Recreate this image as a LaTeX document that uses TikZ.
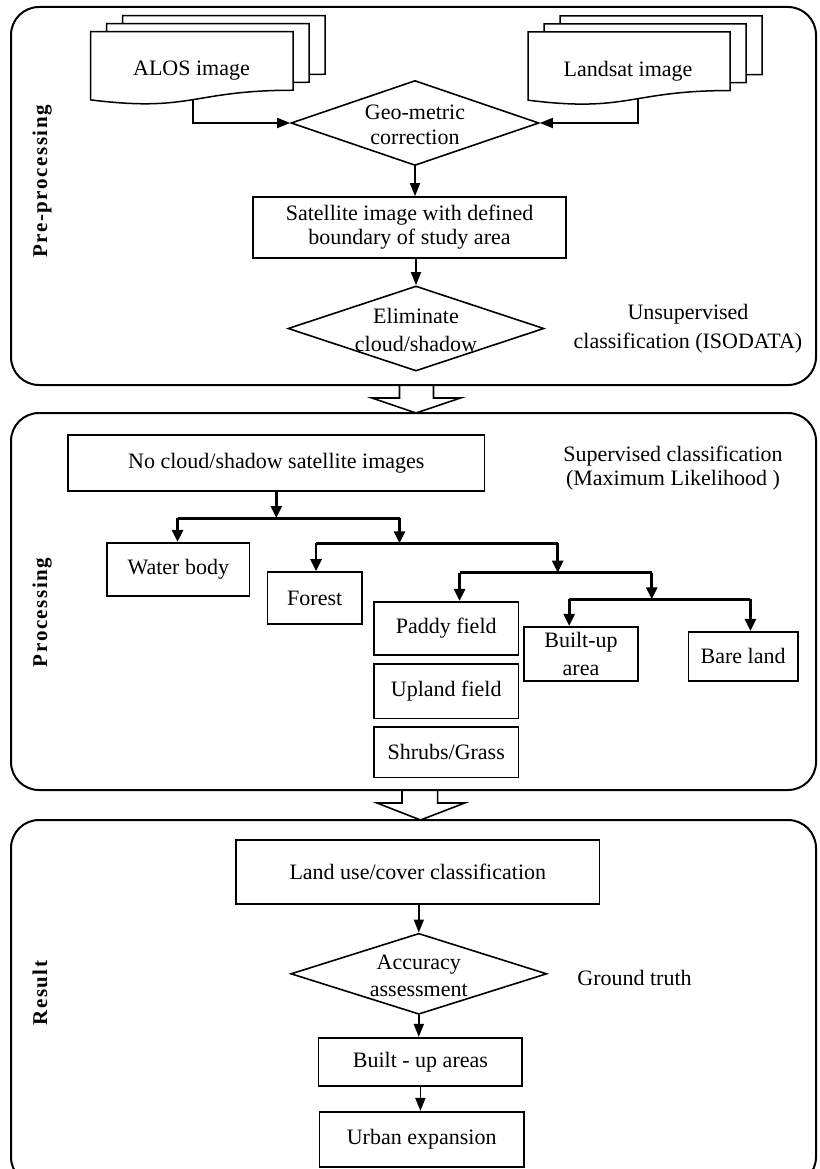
\documentclass[tikz,border=0pt]{standalone}
\usepackage{fontspec}
\setmainfont{Liberation Serif}
\usetikzlibrary{arrows.meta,shapes.geometric}

% one sheet of a stacked-document symbol: left, top, width, height
\newcommand\docsheet[4]{%
  \draw[sheet] (#1,#2) -- ({#1+#3},#2) -- ({#1+#3},{#2+0.802*#4})
    .. controls ({#1+0.5*#3},{#2+0.802*#4}) and ({#1+0.5*#3},{#2+1.108*#4})
    .. (#1,{#2+0.934*#4}) -- cycle;}

% letter-spaced word: kern, word
\makeatletter
\newcommand\spreadword[2]{\@tfor\sw@ch:=#2\do{\sw@ch\kern#1}\unkern}
\makeatother

\begin{document}
\begin{tikzpicture}[x=1pt,y=-1pt,
  every node/.style={font=\fontsize{22}{25}\selectfont},
  panel/.style={draw, line width=2pt, rounded corners=28pt, minimum width=805pt, inner sep=0pt},
  box/.style={draw, line width=1.6pt, inner sep=0pt, align=center},
  decision/.style={draw, diamond, line width=1.6pt, inner sep=0pt},
  sheet/.style={draw, line width=1.5pt, fill=white, line join=miter},
  caption/.style={align=center, inner sep=0pt},
  sect/.style={rotate=90, anchor=base, inner sep=0pt, font=\bfseries\fontsize{21}{23}\selectfont},
  flow/.style={line width=1.8pt, -{Triangle[length=13pt,width=10pt]}},
  bar/.style={line width=3pt},
  branch/.style={line width=2.6pt, -{Triangle[length=12pt,width=11pt]}},
  hollow/.style={draw, line width=1.6pt, fill=white, line join=miter},
]
\useasboundingbox (0,0) rectangle (819,1169);

% ---------- block arrows between the stages ----------
\draw[hollow] (399.5,384) -- (399.5,398) -- (372,398) -- (416,413)
  -- (460.5,398) -- (433.5,398) -- (433.5,384);
\draw[hollow] (402,789) -- (402,803) -- (377,803) -- (420.5,820)
  -- (464.7,803) -- (437.6,803) -- (437.6,789);

% ---------- stage frames ----------
\node[panel, minimum height=378pt] (p1) at (413.5,196) {};
\node[panel, minimum height=377pt] (p2) at (413.5,601.5) {};
\node[panel, minimum height=365pt] (p3) at (413.5,1002.5) {};

\node[sect] (lpre) at (47,181.5) {\spreadword{1.5pt}{Pre-processing}};
\node[sect] (lproc) at (47,612.5) {\spreadword{1.5pt}{Processing}};
\node[sect] (lres) at (47,993) {\spreadword{1.5pt}{Result}};

% ---------- pre-processing ----------
\docsheet{122.7}{15.7}{202.3}{73}
\docsheet{106.7}{23.7}{202.3}{73}
\docsheet{90.7}{31.7}{202.3}{73}
\node (alos) at (191.5,71) {ALOS image};
\coordinate (alosout) at (193,99.8);

\docsheet{560}{16}{202}{73}
\docsheet{544}{24}{202}{73}
\docsheet{528}{32}{202}{73}
\node (landsat) at (628,71) {Landsat image};
\coordinate (landout) at (638,99.5);

\node[decision, minimum width=248pt, minimum height=85pt] (geo) at (415,123) {};
\node[caption] (geotext) at (415,125) {Geo-metric\\correction};

\node[box, minimum width=313pt, minimum height=61pt,
  font=\fontsize{22}{24}\selectfont] (sat) at (409.5,227.5)
  {Satellite image with defined\\boundary of study area};

\node[decision, minimum width=256pt, minimum height=85pt] (elim) at (416,328.5) {};
\node[caption, font=\fontsize{22}{28}\selectfont] (elimtext) at (416,330)
  {Eliminate\\cloud/shadow};

\node[caption, font=\fontsize{22}{29}\selectfont] (unsup) at (688,329)
  {Unsupervised\\classification (ISODATA)};

\draw[flow] (alosout) |- (geo.west);
\draw[flow] (landout) |- (geo.east);
\draw[flow] (geo.south) -- (geo.south |- sat.north);
\draw[flow] (elim.north |- sat.south) -- (elim.north);

% ---------- processing ----------
\node[box, minimum width=416.6pt, minimum height=55.7pt] (nocloud) at (276.3,462.9)
  {No cloud/shadow satellite images};
\node[caption, font=\fontsize{22}{24.3}\selectfont] (sup) at (673,468)
  {Supervised classification\\(Maximum Likelihood )};

\node[box, minimum width=142.6pt, minimum height=53.3pt] (water) at (178.3,569.4) {Water body};
\node[box, minimum width=94.5pt, minimum height=52pt] (forest) at (314.7,598) {Forest};
\node[box, minimum width=144.6pt, minimum height=53.3pt] (paddy) at (446.2,628.4) {Paddy field};
\node[box, minimum width=144.6pt, minimum height=54.3pt] (upland) at (446.2,691.2) {Upland field};
\node[box, minimum width=144.6pt, minimum height=50.6pt] (shrubs) at (446.2,752) {Shrubs/Grass};
\node[box, minimum width=114.3pt, minimum height=54pt,
  font=\fontsize{22}{27.6}\selectfont] (builtup) at (581,653.7) {Built-up\\area};
\node[box, minimum width=109.6pt, minimum height=49pt] (bare) at (743.1,656.2) {Bare land};

% branching tree
\coordinate (b1l) at (177.5,518);  \coordinate (b1r) at (399.5,518);
\coordinate (b2l) at (316,543.3);  \coordinate (b2r) at (557.7,543.3);
\coordinate (b3l) at (459.5,572.7); \coordinate (b3r) at (651.7,572.7);
\coordinate (b4l) at (569.2,599.3); \coordinate (b4r) at (750.4,599.3);

\draw[bar] (b1l) -- (b1r);
\draw[bar] (b2l) -- (b2r);
\draw[bar] (b3l) -- (b3r);
\draw[bar] (b4l) -- (b4r);

\draw[branch] (nocloud.south) -- (nocloud.south |- b1l);
\draw[branch] (b1l) -- (b1l |- water.north);
\draw[branch] (b1r) -- (b1r |- b2l);
\draw[branch] (b2l) -- (b2l |- forest.north);
\draw[branch] (b2r) -- (b2r |- b3l);
\draw[branch] (b3l) -- (b3l |- paddy.north);
\draw[branch] (b3r) -- (b3r |- b4l);
\draw[branch] (b4l) -- (b4l |- builtup.north);
\draw[branch] (b4r) -- (b4r |- bare.north);

% ---------- result ----------
\node[box, minimum width=363.5pt, minimum height=64pt] (landuse) at (417.8,872)
  {Land use/cover classification};
\node[decision, minimum width=256pt, minimum height=81pt] (acc) at (418.8,973.8) {};
\node[caption, font=\fontsize{22}{26.6}\selectfont] (acctext) at (418.8,976)
  {Accuracy\\assessment};
\node[caption] (ground) at (634.5,978) {Ground truth};
\node[box, minimum width=203.7pt, minimum height=48.3pt] (builtareas) at (420.4,1061.9)
  {Built - up areas};
\node[box, minimum width=204.2pt, minimum height=55pt] (urban) at (421.7,1139.2)
  {Urban expansion};

\draw[flow] (landuse.south -| acc.north) -- (acc.north);
\draw[flow] (acc.south) -- (acc.south |- builtareas.north);
\draw[flow] (builtareas.south) -- (builtareas.south |- urban.north);
\end{tikzpicture}
\end{document}
